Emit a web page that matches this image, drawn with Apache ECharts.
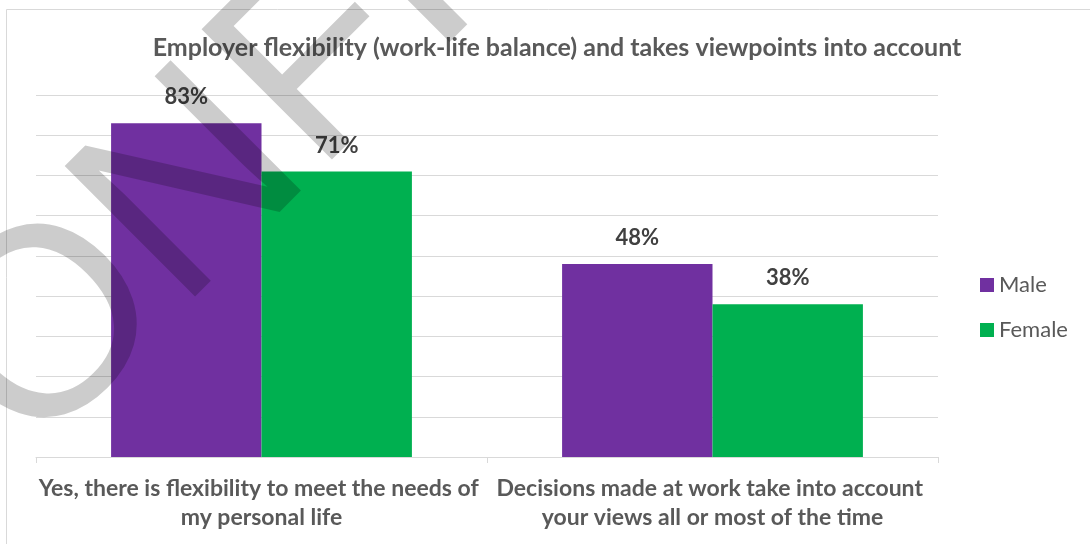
<!DOCTYPE html>
<html>
<head>
<meta charset="utf-8">
<script src="https://cdn.jsdelivr.net/npm/echarts@6/dist/echarts.min.js"></script>
<style>
  html, body { margin: 0; padding: 0; background: #ffffff; }
  #chart { width: 1090px; height: 544px; }
</style>
</head>
<body>
<div id="chart"></div>
<script>
// Survey results by gender (percent of respondents)
const categories = [
  'Yes, there is flexibility to meet the needs of my personal life',
  'Decisions made at work take into account your views all or most of the time'
];
const seriesNames = ['Male', 'Female'];
const maleValues = [83, 48];
const femaleValues = [71, 38];
const titleText = 'Employer flexibility (work-life balance) and takes viewpoints into account';
const watermarkText = 'CONFIDENTIAL';

const FONT = 'Lato';
const chart = echarts.init(document.getElementById('chart'), null, { renderer: 'canvas' });

const labelStyle = {
  show: true,
  position: 'top',
  distance: 15,
  formatter: p => p.value + '%',
  fontFamily: FONT,
  fontWeight: 'bold',
  fontSize: 22,
  color: '#404040'
};

chart.setOption({
  animation: false,
  backgroundColor: '#ffffff',
  title: {
    text: titleText,
    left: 552,
    top: 30,
    textAlign: 'center',
    textStyle: { fontFamily: FONT, fontWeight: 'bold', fontSize: 25, color: '#595959' }
  },
  legend: {
    orient: 'vertical',
    left: 980,
    top: 274,
    padding: 0,
    itemWidth: 14,
    itemHeight: 14,
    itemGap: 23,
    icon: 'rect',
    textStyle: { fontFamily: FONT, fontSize: 22, color: '#595959' },
    data: seriesNames
  },
  grid: { left: 36, right: 152, top: 95, bottom: 87, containLabel: false },
  xAxis: {
    type: 'category',
    data: categories,
    axisLine: { lineStyle: { color: '#d9d9d9', width: 1 } },
    axisTick: { show: true, length: 6, lineStyle: { color: '#d9d9d9' } },
    axisLabel: {
      interval: 0,
      margin: 17,
      width: 450,
      overflow: 'break',
      lineHeight: 29,
      fontFamily: FONT,
      fontWeight: 'bold',
      fontSize: 23,
      color: '#595959'
    }
  },
  yAxis: {
    type: 'value',
    min: 0,
    max: 90,
    interval: 10,
    axisLabel: { show: false },
    axisLine: { show: false },
    axisTick: { show: false },
    splitLine: { lineStyle: { color: '#d9d9d9', width: 1 } }
  },
  series: [
    {
      name: seriesNames[0],
      type: 'bar',
      data: maleValues,
      barGap: '0%',
      barCategoryGap: '33.3%',
      itemStyle: { color: '#7030A0' },
      label: labelStyle
    },
    {
      name: seriesNames[1],
      type: 'bar',
      data: femaleValues,
      barGap: '0%',
      barCategoryGap: '33.3%',
      itemStyle: { color: '#00B050' },
      label: labelStyle
    }
  ],
  graphic: [
    {
      // chart area frame
      type: 'rect',
      silent: true,
      z: -10,
      shape: { x: 6.5, y: 9.5, width: 1200, height: 700 },
      style: { fill: 'none', stroke: '#d9d9d9', lineWidth: 1 }
    },
    {
      // diagonal document watermark
      type: 'text',
      silent: true,
      z: 100,
      x: -157,
      y: 544,
      rotation: Math.PI / 4,
      style: {
        text: watermarkText,
        x: 0,
        y: 0,
        font: '268px "Liberation Sans"',
        textAlign: 'left',
        textVerticalAlign: 'middle',
        fill: 'rgba(0,0,0,0.2)'
      }
    }
  ]
});
</script>
</body>
</html>
